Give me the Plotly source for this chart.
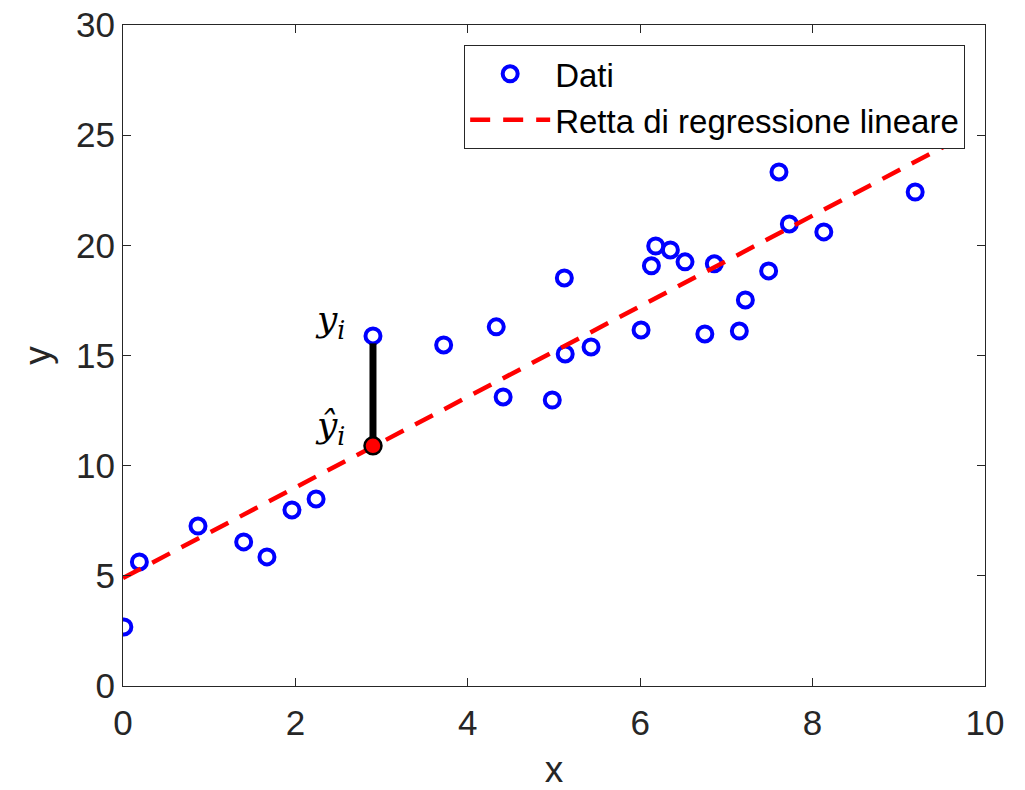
import plotly.graph_objects as go

# Data
x_data = [0.01, 0.19, 0.87, 1.40, 1.67, 1.96, 2.24, 2.90, 3.72, 4.33, 4.41, 4.98,
          5.12, 5.13, 5.43, 6.01, 6.13, 6.18, 6.35, 6.52, 6.75, 6.86, 7.15, 7.22,
          7.49, 7.61, 7.73, 8.13, 9.19, 9.56]
y_data = [2.68, 5.63, 7.26, 6.54, 5.86, 7.99, 8.49, 15.89, 15.48, 16.30, 13.12, 12.98,
          18.52, 15.07, 15.39, 16.16, 19.07, 19.97, 19.79, 19.25, 15.98, 19.16, 16.11, 17.52,
          18.84, 23.33, 20.97, 20.61, 22.42, 25.10]

line_x = [0, 9.8]
line_y = [4.9, 25.05]

resid_x = [2.90, 2.90]
resid_y = [15.55, 10.90]
yhat_x = [2.90]
yhat_y = [10.90]

x_ticks = [0, 2, 4, 6, 8, 10]
y_ticks = [0, 5, 10, 15, 20, 25, 30]

axis_col = "#262626"
font_family = "Liberation Sans, Arial, sans-serif"
math_font = "DejaVu Serif, Liberation Serif, serif"

fig = go.Figure()
fig.add_trace(go.Scatter(
    x=x_data, y=y_data, mode="markers", name="Dati",
    marker=dict(symbol="circle-open", size=15, color="#0000ff",
                line=dict(width=4, color="#0000ff")),
))
fig.add_trace(go.Scatter(
    x=line_x, y=line_y, mode="lines", name="Retta di regressione lineare",
    line=dict(color="#ff0000", width=4.5, dash="20px,13px"),
))
fig.add_trace(go.Scatter(
    x=resid_x, y=resid_y, mode="lines", showlegend=False,
    line=dict(color="black", width=7),
))
fig.add_trace(go.Scatter(
    x=yhat_x, y=yhat_y, mode="markers", showlegend=False,
    marker=dict(symbol="circle", size=17, color="#ff0000",
                line=dict(width=2.5, color="black")),
))

fig.add_annotation(x=2.9, y=15.89, xref="x", yref="y", text="<i>y</i><sub><i>i</i></sub>",
                   showarrow=False, xanchor="right", xshift=-26, yshift=14,
                   font=dict(family=math_font, size=36, color="black"))
fig.add_annotation(x=2.9, y=10.9, xref="x", yref="y", text="<i>ŷ</i><sub><i>i</i></sub>",
                   showarrow=False, xanchor="right", xshift=-26, yshift=18,
                   font=dict(family=math_font, size=36, color="black"))

axis_common = dict(
    showline=True, linecolor=axis_col, linewidth=1, mirror="ticks",
    ticks="inside", ticklen=8, tickwidth=1, tickcolor=axis_col,
    showgrid=False, zeroline=False, automargin=False,
    tickfont=dict(family=font_family, size=35, color=axis_col),
)

fig.update_layout(
    width=1025, height=790,
    margin=dict(l=123, r=40, t=25, b=104),
    paper_bgcolor="white", plot_bgcolor="white",
    xaxis=dict(range=[0, 10], tickvals=x_ticks, ticklabelstandoff=6,
               title=dict(text="x", font=dict(family=font_family, size=37, color=axis_col), standoff=22),
               **axis_common),
    yaxis=dict(range=[0, 30], tickvals=y_ticks,
               title=dict(text="y", font=dict(family=font_family, size=37, color=axis_col), standoff=14),
               **axis_common),
    legend=dict(x=0.977, y=0.970, xanchor="right", yanchor="top",
                bgcolor="white", bordercolor=axis_col, borderwidth=1,
                font=dict(family=font_family, size=33, color="black"),
                itemwidth=80, tracegroupgap=0),
    showlegend=True,
)

fig.write_html("out.html")
